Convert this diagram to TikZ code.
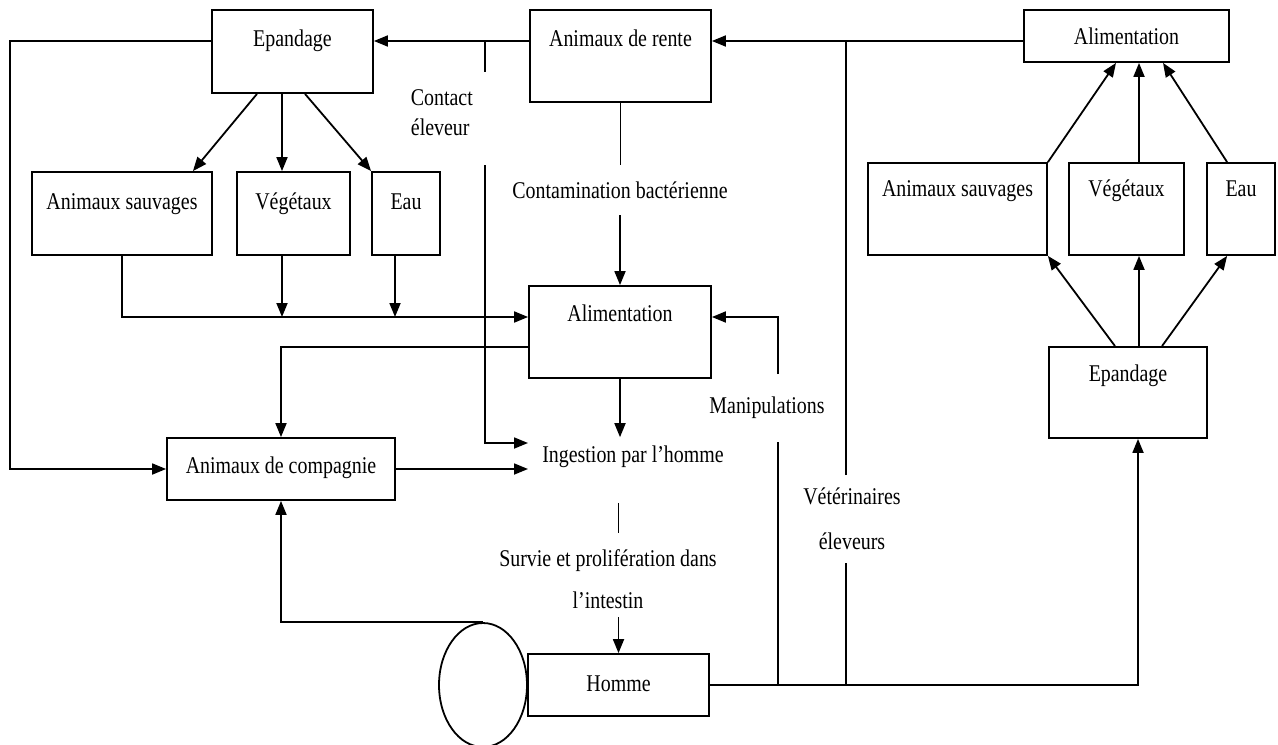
\documentclass[tikz,border=0pt]{standalone}
\usepackage{fontspec}
\setmainfont{Liberation Serif}[FakeStretch=0.83]
\usetikzlibrary{arrows.meta, calc, shapes.geometric}

\begin{document}
\begin{tikzpicture}[x=0.5pt, y=-0.5pt, line width=0.9pt, >={Triangle[length=7pt,width=5.5pt]},
                    font=\fontsize{12}{14}\selectfont,
                    box/.style={draw, inner ysep=0pt, inner xsep=2pt},
                    lbl/.style={inner sep=4pt, align=center}]
                        \useasboundingbox (0,0) rectangle (1278,744);

                        \node[box, minimum width=80.5pt, text height=18pt, text depth=23.5pt] (epl) at (292.5,51.5) {Epandage};
                        \node[box, minimum width=90.5pt, text height=18pt, text depth=28pt] (rente) at (620.5,56) {Animaux de rente};
                        \node[box, minimum width=102.5pt, text height=17pt, text depth=9pt] (alr) at (1126.5,36) {Alimentation};
                        \node[box, minimum width=90pt, text height=18.5pt, text depth=23pt] (asl) at (122,213.5) {Animaux sauvages};
                        \node[box, minimum width=56.5pt, text height=18.5pt, text depth=23pt] (vgl) at (293.5,213.5) {Végétaux};
                        \node[box, minimum width=34pt, text height=18.5pt, text depth=23pt] (eal) at (406,213.5) {Eau};
                        \node[box, minimum width=89.5pt, text height=16.5pt, text depth=29.5pt] (asr) at (957.5,209) {Animaux sauvages};
                        \node[box, minimum width=57.5pt, text height=16.5pt, text depth=29.5pt] (vgr) at (1126.5,209) {Végétaux};
                        \node[box, minimum width=34pt, text height=16.5pt, text depth=29.5pt] (ear) at (1241,209) {Eau};
                        \node[box, minimum width=79pt, text height=17pt, text depth=28.5pt] (epr) at (1128,392.5) {Epandage};
                        \node[box, minimum width=91pt, text height=17.5pt, text depth=28.5pt] (alm) at (620,332) {Alimentation};
                        \node[box, minimum width=114pt, text height=17.5pt, text depth=13.5pt] (comp) at (281,469) {Animaux de compagnie};
                        \node[box, minimum width=90.5pt, text height=18.5pt, text depth=12.5pt] (homme) at (618.5,685) {Homme};
                        \node[draw, ellipse, minimum width=44pt, minimum height=62pt, inner sep=0pt] (cercle) at (483,685) {};

                        \node[lbl, align=left, anchor=west] (contact) at (402,113) {Contact\\[1pt]éleveur};
                        \node[lbl, inner ysep=8pt] (contam) at (620,190) {Contamination bactérienne};
                        \node[lbl] (ingest) at (633,457) {Ingestion par l’homme};
                        \node[lbl, inner ysep=11pt] (manip) at (767,408) {Manipulations};
                        \node[lbl] (survie) at (608,579) {Survie et prolifération dans\\[7pt]l’intestin};
                        \node[lbl, inner ysep=6pt] (veto) at (852,519) {Vétérinaires\\[8.5pt]éleveurs};

                        \coordinate (top) at (0,41);
                        \coordinate (feed) at (0,317);
                        \coordinate (c1) at (485,72);
                        \coordinate (c2) at (485,165);
                        \coordinate (ing1) at (528,443);
                        \coordinate (ing2) at (528,469);

                        \draw[->] (alr.west |- top) -- (rente.east |- top);
                        \draw[->] (rente.west |- top) -- (epl.east |- top);
                        \draw[->] (epl.west |- top) -- (10,41) |- (comp.west);
                        \draw (c1 |- top) -- (c1);
                        \draw[->] (c2) |- (ing1);

                        \draw[->] ($(epl.south)+(-35.5,0)$) -- ($(asl.north east)+(-20,0)$);
                        \draw[->] ($(epl.south)+(-10.5,0)$) coordinate (e2) -- (e2 |- vgl.north);
                        \draw[->] ($(epl.south)+(12.5,0)$) -- (eal.north west);
                        \draw[->] (asl.south) |- (alm.west |- feed);
                        \draw[->] (e2 |- vgl.south) -- (e2 |- feed);
                        \draw[->] ($(eal.south)+(-11,0)$) coordinate (e3) -- (e3 |- feed);
                        \draw[->] ($(alm.west)+(0,15)$) -| (comp.north);
                        \draw[->] (comp.east) -- (ing2);
                        \draw[->] (cercle.north) -| (comp.south);

                        \draw (rente.south) -- (rente.south |- contam.north);
                        \draw[->] (contam.south -| alm.north) -- (alm.north);
                        \draw[->] (alm.south) -- (alm.south |- ingest.north);
                        \draw ($(ingest.south -| homme.north)+(0,26)$) -- ++(0,30);
                        \draw[->] (survie.south -| homme.north) -- (homme.north);

                        \draw[->] (homme.east) -| ($(epr.south)+(10,0)$);
                        \draw (homme.east) ++(68,0) coordinate (m0) -- (m0 |- manip.south);
                        \draw[->] (m0 |- manip.north) |- (alm.east |- feed);
                        \draw (homme.east) ++(136,0) coordinate (v0) -- (v0 |- veto.south);
                        \draw (v0 |- veto.north) -- (v0 |- top);

                        \draw[->] ($(epr.north)+(-13,0)$) -- (asr.south east);
                        \draw[->] ($(epr.north)+(11,0)$) coordinate (e5) -- (e5 |- vgr.south);
                        \draw[->] ($(epr.north)+(34,0)$) -- ($(ear.south west)+(21,0)$);
                        \draw[->] (asr.north east) -- ($(alr.south)+(-10.5,0)$);
                        \draw[->] (e5 |- vgr.north) -- (e5 |- alr.south);
                        \draw[->] ($(ear.north west)+(21,0)$) -- ($(alr.south)+(36.5,0)$);
                    \end{tikzpicture}
\end{document}
